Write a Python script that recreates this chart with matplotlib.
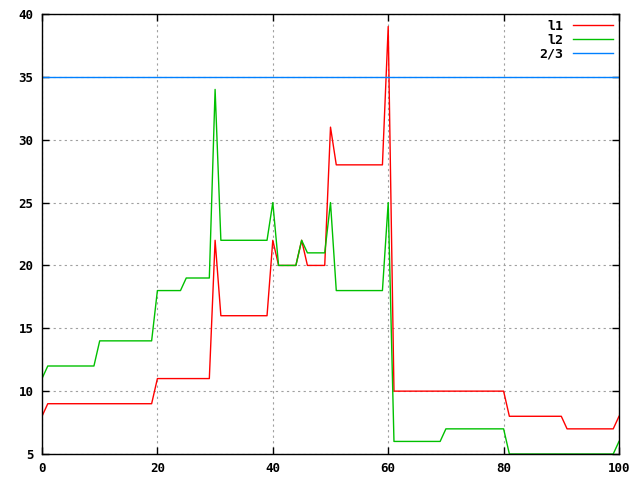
import matplotlib
matplotlib.use("Agg")
import matplotlib.pyplot as plt
import numpy as np

# valores (x entero de 0 a 100)
x = np.arange(0, 101)

l1 = ([8] + [9]*19 + [11]*10 + [22] + [16]*9 + [22] + [20]*4 + [22]
      + [20]*4 + [31] + [28]*9 + [39] + [10]*20 + [8]*10 + [7]*9 + [8])
l2 = ([11] + [12]*9 + [14]*10 + [18]*5 + [19]*5 + [34] + [22]*9 + [25]
      + [20]*4 + [22] + [21]*4 + [25] + [18]*9 + [25] + [6]*9 + [7]*11
      + [5]*19 + [6])
linea = 35

plt.rcParams['font.family'] = ['DejaVu Sans Mono']
plt.rcParams['font.weight'] = 'bold'
plt.rcParams['font.size'] = 9

fig = plt.figure(figsize=(6.4, 4.8), dpi=100)
ax = fig.add_axes([42/640, 1-454/480, (619-42)/640, (454-14)/480])

ax.plot(x, l1, color='#ff0000', lw=1.0, label='l1')
ax.plot(x, l2, color='#00c000', lw=1.0, label='l2')
ax.axhline(linea, color='#0080ff', lw=1.0, label='2/3')

ax.set_xlim(0, 100)
ax.set_ylim(5, 40)
ax.set_xticks(np.arange(0, 101, 20))
ax.set_yticks(np.arange(5, 41, 5))
ax.tick_params(direction='in', top=True, right=True, length=5, width=1,
               labelsize=9, pad=6)
ax.grid(True, color='#a0a0a0', linestyle=(0, (2, 3)), lw=0.8)
for s in ax.spines.values():
    s.set_linewidth(1)
    s.set_zorder(5)

leg = ax.legend(loc='upper right', frameon=False, markerfirst=False,
                handlelength=3.0, handletextpad=0.8, labelspacing=0.05,
                borderaxespad=0.15, borderpad=0.3, fontsize=9.5)
for t in leg.get_texts():
    t.set_ha('right')

plt.savefig('out.png', dpi=100)
